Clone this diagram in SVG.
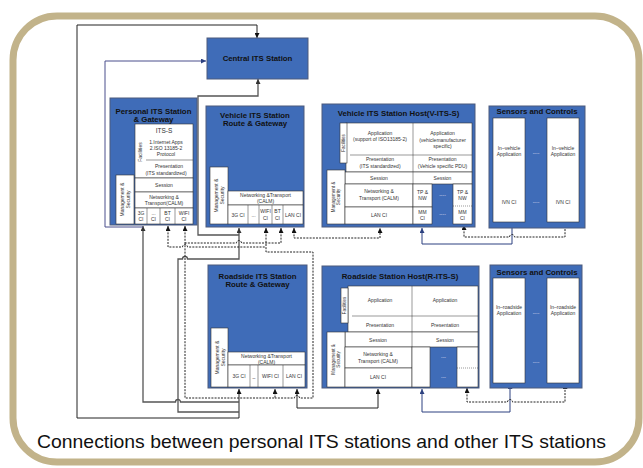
<svg xmlns="http://www.w3.org/2000/svg" width="643" height="468" viewBox="0 0 643 468">
<style>
.blue{fill:#3f6cb8;stroke:#4d5a7c;stroke-width:1}
.wb{fill:#fff;stroke:#333;stroke-width:0.6}
.sl{fill:none;stroke:#333;stroke-width:0.5}
.t{font-family:"Liberation Sans",Arial,sans-serif;font-size:5px;fill:#333;text-anchor:middle}
.tt{font-family:"Liberation Sans",Arial,sans-serif;font-weight:bold;font-size:7.8px;fill:#111;text-anchor:middle}
.dw{font-family:"Liberation Sans",Arial,sans-serif;font-size:5px;fill:#dde;text-anchor:middle}
.ln{fill:none;stroke:#222;stroke-width:1}
.gl{fill:none;stroke:#555;stroke-width:1.3}
.nv{fill:none;stroke:#2c4180;stroke-width:1}
.pl{fill:none;stroke:#4a4f8c;stroke-width:1}
.ds{stroke-dasharray:2 1.2}
.cap{font-family:"Liberation Sans",Arial,sans-serif;font-size:19px;fill:#111;text-anchor:middle}
</style>
<defs>
<marker id="ak" viewBox="0 0 5 5" refX="5" refY="2.5" markerWidth="5" markerHeight="5" markerUnits="userSpaceOnUse" orient="auto-start-reverse"><path d="M0,0 L5,2.5 L0,5 z" fill="#111"/></marker>
<marker id="ag" viewBox="0 0 5 5" refX="5" refY="2.5" markerWidth="5" markerHeight="5" markerUnits="userSpaceOnUse" orient="auto-start-reverse"><path d="M0,0 L5,2.5 L0,5 z" fill="#333"/></marker>
<marker id="an" viewBox="0 0 5 5" refX="5" refY="2.5" markerWidth="5" markerHeight="5" markerUnits="userSpaceOnUse" orient="auto-start-reverse"><path d="M0,0 L5,2.5 L0,5 z" fill="#2c4180"/></marker>
</defs>
<rect x="0" y="0" width="643" height="468" fill="#fff"/>
<rect x="13" y="16" width="626" height="446" rx="44" fill="#fff" stroke="#c2b38a" stroke-width="7"/>

<g id="connectors">
<path class="ln" d="M239,389 V418 H77 V25 H257 V38" marker-start="url(#ak)" marker-end="url(#ak)"/>
<path class="gl" d="M143,226 V402 H175.5 a2.5,2.5 0 0 1 5,0 H239" marker-start="url(#ag)"/>
<path class="pl" d="M143,227 H105 V61 H206" marker-end="url(#an)"/>
<path class="gl" d="M239,228 V259 H187.5 a2.5,2.5 0 0 0 -5,0 H178 V412 H239" marker-start="url(#ag)"/>
<path class="gl" d="M258,79 V96 H198 V235 H239" marker-start="url(#ag)"/>
<path class="ln ds" d="M168,226 V247 H182.5 a2.5,2.5 0 0 1 5,0 H266" marker-start="url(#ak)"/>
<path class="ln ds" d="M281,228 V243 H241.5 a2.5,2.5 0 0 0 -5,0 H185" marker-start="url(#ak)"/>
<path class="ln ds" d="M185,226 V398 H275 V389" marker-start="url(#ak)" marker-end="url(#ak)"/>
<path class="ln ds" d="M266,228 V252 H313 V398 H299.5 a2.5,2.5 0 0 0 -5,0 H275" marker-start="url(#ak)"/>
<path class="ln ds" d="M294,228 V238 H380 V228" marker-start="url(#ak)" marker-end="url(#ak)"/>
<path class="ln" d="M297,389 V408 H378 V389" marker-start="url(#ak)" marker-end="url(#ak)"/>
<path class="nv" d="M422,228 V244 H512 V223" marker-start="url(#an)" marker-end="url(#an)"/>
<path class="ln ds" d="M464,225 V237 H509.5 a2.5,2.5 0 0 1 5,0 H565 V223" marker-start="url(#ak)" marker-end="url(#ak)"/>
<path class="nv" d="M422,389 V412 H510 V384" marker-start="url(#an)" marker-end="url(#an)"/>
<path class="ln ds" d="M467,388 V402 H507.5 a2.5,2.5 0 0 1 5,0 H565 V384" marker-start="url(#ak)" marker-end="url(#ak)"/>
</g>

<g id="central">
<rect class="blue" x="207" y="38" width="101" height="41"/>
<text class="tt" x="257.5" y="61">Central ITS Station</text>
</g>

<g id="personal">
<rect class="blue" x="110" y="98" width="87" height="127"/>
<text class="tt" x="153.5" y="113.5">Personal ITS Station</text>
<text class="tt" x="153.5" y="122">&amp; Gateway</text>
<rect class="wb" x="135" y="124" width="58" height="54"/>
<line class="sl" x1="146" y1="160" x2="193" y2="160"/>
<text class="t" x="164" y="133" style="font-size:6.5px">ITS-S</text>
<text class="t" x="166" y="144">1.Internet Apps</text>
<text class="t" x="166" y="150">2.ISO 13185-2</text>
<text class="t" x="166" y="156">Protocol</text>
<text class="t" transform="translate(141.5,152) rotate(-90)">Facilities</text>
<text class="t" x="169" y="168">Presentation</text>
<text class="t" x="166" y="175">(ITS standardized)</text>
<rect class="wb" x="135" y="178" width="58" height="14"/>
<text class="t" x="164" y="187">Session</text>
<rect class="wb" x="135" y="192" width="58" height="16"/>
<text class="t" x="164" y="198.5">Networking &amp;</text>
<text class="t" x="164" y="205">Transport(CALM)</text>
<rect class="wb" x="135" y="208" width="58" height="16"/>
<line class="sl" x1="147" y1="208" x2="147" y2="224"/>
<line class="sl" x1="160" y1="208" x2="160" y2="224"/>
<line class="sl" x1="175" y1="208" x2="175" y2="224"/>
<text class="t" x="141" y="214.5">3G</text><text class="t" x="141" y="220.5">CI</text>
<text class="t" x="153.5" y="214.5">...</text><text class="t" x="153.5" y="220.5">CI</text>
<text class="t" x="167.5" y="214.5">BT</text><text class="t" x="167.5" y="220.5">CI</text>
<text class="t" x="184" y="214.5">WIFI</text><text class="t" x="184" y="220.5">CI</text>
<rect class="wb" x="116" y="175" width="18" height="49"/>
<text class="t" transform="translate(124,199.5) rotate(-90)"><tspan x="0" y="0">Management &amp;</tspan><tspan x="0" y="5.5">Security</tspan></text>
</g>

<g id="vehicle-station">
<rect class="blue" x="206" y="106" width="98" height="121"/>
<text class="tt" x="255" y="117.5">Vehicle ITS Station</text>
<text class="tt" x="255" y="126">Route &amp; Gateway</text>
<rect class="wb" x="210" y="167" width="18" height="57"/>
<text class="t" transform="translate(218,195.5) rotate(-90)"><tspan x="0" y="0">Management &amp;</tspan><tspan x="0" y="5.5">Security</tspan></text>
<rect class="wb" x="228" y="191" width="75" height="14"/>
<text class="t" x="265.5" y="197">Networking &amp;Transport</text>
<text class="t" x="265.5" y="203">(CALM)</text>
<rect class="wb" x="228" y="205" width="75" height="19"/>
<line class="sl" x1="248" y1="205" x2="248" y2="224"/>
<line class="sl" x1="259" y1="205" x2="259" y2="224"/>
<line class="sl" x1="272" y1="205" x2="272" y2="224"/>
<line class="sl" x1="283" y1="205" x2="283" y2="224"/>
<text class="t" x="238" y="216.5">3G CI</text>
<text class="t" x="253.5" y="216.5">...</text>
<text class="t" x="265.5" y="213">WIFI</text><text class="t" x="265.5" y="219.5">CI</text>
<text class="t" x="277.5" y="213">BT</text><text class="t" x="277.5" y="219.5">CI</text>
<text class="t" x="293" y="216.5">LAN CI</text>
</g>

<g id="vehicle-host">
<rect class="blue" x="322" y="104" width="153" height="123"/>
<text class="tt" x="398.5" y="116">Vehicle ITS Station Host(V-ITS-S)</text>
<rect class="wb" x="346" y="123" width="126" height="49"/>
<rect class="wb" x="340" y="123" width="7" height="40"/>
<text class="t" transform="translate(345,143) rotate(-90)" style="font-size:4.5px">Facilities</text>
<line class="sl" x1="413" y1="123" x2="413" y2="172"/>
<line class="sl" x1="350" y1="155" x2="472" y2="155"/>
<text class="t" x="380" y="135">Application</text>
<text class="t" x="380" y="141">(support of ISO13185-2)</text>
<text class="t" x="442.5" y="135">Application</text>
<text class="t" x="442.5" y="141.5">(vehiclemanufacturer</text>
<text class="t" x="442.5" y="148">specific)</text>
<text class="t" x="380" y="161">Presentation</text>
<text class="t" x="380" y="167.5">(ITS standardized)</text>
<text class="t" x="442.5" y="161">Presentation</text>
<text class="t" x="442.5" y="167.5">(Vehicle specific PDU)</text>
<rect class="wb" x="345" y="172" width="127" height="12"/>
<line class="sl" x1="413" y1="172" x2="413" y2="184"/>
<text class="t" x="379" y="180">Session</text>
<text class="t" x="442.5" y="180">Session</text>
<rect class="wb" x="327" y="170" width="18" height="54"/>
<text class="t" transform="translate(335,197) rotate(-90)" style="font-size:4.5px"><tspan x="0" y="0">Management &amp;</tspan><tspan x="0" y="5">Security</tspan></text>
<rect class="wb" x="345" y="184" width="68" height="23"/>
<text class="t" x="379" y="193">Networking &amp;</text>
<text class="t" x="379" y="199.5">Transport (CALM)</text>
<rect class="wb" x="345" y="207" width="68" height="17"/>
<text class="t" x="379" y="217">LAN CI</text>
<rect class="wb" x="413" y="184" width="19" height="23"/>
<text class="t" x="422.5" y="194">TP &amp;</text><text class="t" x="422.5" y="200">NW</text>
<rect class="wb" x="413" y="207" width="19" height="17"/>
<text class="t" x="422.5" y="213.5">MM</text><text class="t" x="422.5" y="219.5">CI</text>
<text class="dw" x="442.5" y="197">----</text>
<text class="dw" x="442.5" y="216">----</text>
<rect class="wb" x="453" y="184" width="19" height="40"/>
<line class="sl" x1="453" y1="206" x2="472" y2="206" stroke-dasharray="1 1"/>
<text class="t" x="462.5" y="194">TP &amp;</text><text class="t" x="462.5" y="200">NW</text>
<text class="t" x="462.5" y="213.5">MM</text><text class="t" x="462.5" y="219.5">CI</text>
</g>

<g id="vehicle-sensors">
<rect class="blue" x="489" y="106" width="96" height="122"/>
<text class="tt" x="537" y="114">Sensors and Controls</text>
<rect class="wb" x="493" y="118" width="32" height="104"/>
<rect class="wb" x="547" y="118" width="32" height="104"/>
<text class="t" x="509" y="150">In–vehicle</text>
<text class="t" x="509" y="156">Application</text>
<text class="t" x="563" y="150">In–vehicle</text>
<text class="t" x="563" y="156">Application</text>
<text class="t" x="509" y="204">IVN CI</text>
<text class="t" x="563" y="204">IVN CI</text>
<text class="dw" x="536" y="155">----</text>
<text class="dw" x="536" y="204">----</text>
</g>

<g id="roadside-station">
<rect class="blue" x="208" y="265" width="99" height="123"/>
<text class="tt" x="257.5" y="278.5">Roadside ITS Station</text>
<text class="tt" x="257.5" y="287">Route &amp; Gateway</text>
<rect class="wb" x="211" y="328" width="17" height="59"/>
<text class="t" transform="translate(219,357.5) rotate(-90)"><tspan x="0" y="0">Management &amp;</tspan><tspan x="0" y="5.5">Security</tspan></text>
<rect class="wb" x="228" y="352" width="77" height="13"/>
<text class="t" x="266.5" y="357.5">Networking &amp;Transport</text>
<text class="t" x="266.5" y="363.5">(CALM)</text>
<rect class="wb" x="228" y="365" width="77" height="22"/>
<line class="sl" x1="250" y1="365" x2="250" y2="387"/>
<line class="sl" x1="258" y1="365" x2="258" y2="387"/>
<line class="sl" x1="283" y1="365" x2="283" y2="387"/>
<text class="t" x="239" y="378">3G CI</text>
<text class="t" x="254" y="378">_</text>
<text class="t" x="270.5" y="378">WIFI CI</text>
<text class="t" x="294" y="378">LAN CI</text>
</g>

<g id="roadside-host">
<rect class="blue" x="322" y="266" width="157" height="122"/>
<text class="tt" x="400" y="279">Roadside Station Host(R-ITS-S)</text>
<rect class="wb" x="348" y="286" width="130" height="46"/>
<rect class="wb" x="341" y="288" width="7" height="35"/>
<text class="t" transform="translate(346,305.5) rotate(-90)" style="font-size:4.5px">Facilities</text>
<line class="sl" x1="412" y1="286" x2="412" y2="332"/>
<line class="sl" x1="352" y1="316" x2="478" y2="316"/>
<text class="t" x="380" y="302">Application</text>
<text class="t" x="445" y="302">Application</text>
<text class="t" x="380" y="326.5">Presentation</text>
<text class="t" x="445" y="326.5">Presentation</text>
<rect class="wb" x="345" y="332" width="133" height="15"/>
<line class="sl" x1="412" y1="332" x2="412" y2="347"/>
<text class="t" x="378" y="341.5">Session</text>
<text class="t" x="445" y="341.5">Session</text>
<rect class="wb" x="327" y="332" width="18" height="55"/>
<text class="t" transform="translate(335,359.5) rotate(-90)" style="font-size:4.5px"><tspan x="0" y="0">Management &amp;</tspan><tspan x="0" y="5">Security</tspan></text>
<rect class="wb" x="345" y="347" width="67" height="21"/>
<text class="t" x="378" y="356">Networking &amp;</text>
<text class="t" x="378" y="362.5">Transport (CALM)</text>
<rect class="wb" x="345" y="368" width="67" height="19"/>
<text class="t" x="378" y="379">LAN CI</text>
<rect class="wb" x="412" y="347" width="18" height="40"/>
<text class="dw" x="443.5" y="358.5">---</text>
<text class="dw" x="443.5" y="378.5">---</text>
<rect class="wb" x="457" y="347" width="21" height="40"/>
<line class="sl" x1="457" y1="368" x2="478" y2="368" stroke-dasharray="1 1"/>
</g>

<g id="roadside-sensors">
<rect class="blue" x="490" y="265" width="92" height="123"/>
<text class="tt" x="537" y="275">Sensors and Controls</text>
<rect class="wb" x="493" y="278" width="32" height="105"/>
<rect class="wb" x="547" y="278" width="32" height="105"/>
<text class="t" x="509" y="309">In–roadside</text>
<text class="t" x="509" y="315">Application</text>
<text class="t" x="563" y="309">In–roadside</text>
<text class="t" x="563" y="315">Application</text>
<text class="dw" x="536" y="315">----</text>
<text class="dw" x="536" y="364">----</text>
</g>

<text class="cap" x="321.5" y="448" textLength="569" lengthAdjust="spacingAndGlyphs">Connections between personal ITS stations and other ITS stations</text>
</svg>
